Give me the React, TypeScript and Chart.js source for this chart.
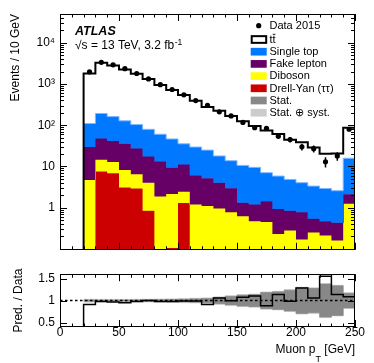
import { useEffect, useRef } from 'react';
import { Chart, registerables } from 'chart.js';
Chart.register(...registerables);

const FONT = '"Liberation Sans", Arimo, Arial, Helvetica, sans-serif';

// Muon pT bins: lower edges in GeV (10 GeV wide)
const binLow = [20, 30, 40, 50, 60, 70, 80, 90, 100, 110, 120, 130, 140, 150, 160, 170, 180, 190, 200, 210, 220, 230, 240];
const binWidth = 10;

// Events per bin
const data2015 = [1975, 3370, 2920, 2355, 1800, 1330, 964, 736, 546, 396, 303, 212, 168, 117, 87, 84, 54, 45, 30, 27, 13, 18, 80];
const ttbar = [1687, 3110, 2670, 2109, 1660, 1250, 884, 674, 504, 362, 251, 207, 154, 115, 86.5, 67, 55.7, 39.5, 34.6, 25.3, 17.3, 17.9, 71];
const singleTop = [80.4, 145, 120.3, 92.5, 76.8, 62.2, 47.3, 37.2, 24.4, 23.6, 19.7, 14.0, 10.85, 9.29, 8.3, 5.63, 4.92, 4.01, 3.27, 2.8, 2.45, 2.15, 13.7];
const fakeLepton = [24.9, 33.5, 28.9, 27.3, 20.7, 13.4, 11.4, 7.15, 8.66, 4.8, 4.11, 3.05, 2.19, 0.69, 0.73, 0.98, 0.7, 0.56, 0.6, 0.29, 0.26, 0.27, 0.88];
const diboson = [4.7, 7.0, 6.0, 5.1, 3.6, 3.16, 1.87, 2.05, 1.14, 1.2, 1.09, 0.95, 0.77, 0.62, 0.47, 0.45, 0.23, 0.28, 0.17, 0.25, 0.21, 0.16, 1.24];
const drellYan = [0, 7.5, 6.8, 3.1, 2.9, 0.84, 0, 0.105, 1.3, 0, 0, 0, 0, 0, 0, 0, 0, 0, 0, 0, 0, 0, 0];

// Relative uncertainties for the ratio band
const statUnc = [0.012, 0.01, 0.01, 0.012, 0.014, 0.016, 0.02, 0.025, 0.032, 0.04, 0.048, 0.072, 0.098, 0.125, 0.138, 0.185, 0.2, 0.238, 0.295, 0.278, 0.375, 0.338, 0.168];
const totUnc = [0.035, 0.03, 0.03, 0.03, 0.032, 0.034, 0.038, 0.042, 0.048, 0.055, 0.062, 0.085, 0.11, 0.138, 0.15, 0.197, 0.212, 0.25, 0.307, 0.29, 0.387, 0.35, 0.18];

// Axis ticks
const mainYTickValues = [1, 10, 100, 1000, 10000];
const mainYTickLabels = ['1', '10', '10²', '10³', '10⁴'];
const ratioYTickValues = [0.5, 1, 1.5];
const ratioYTickLabels = ['0.5', '1', '1.5'];
const xTickValues = [0, 50, 100, 150, 200, 250];

const Y_MIN = 0.095;
const Y_MAX = 5e4;
const R_MIN = 0.4;
const R_MAX = 1.6;
const FLOOR = 0.01;

const COLORS = {
  singleTop: '#0078ff',
  fake: '#660066',
  diboson: '#ffff00',
  dy: '#cc0000',
  stat: '#888888',
  syst: '#cccccc',
};

// histogram outline points at bin edges (used with stepped lines)
function stepPoints(values: number[], floor: number) {
  const last = binLow.length - 1;
  return [
    ...binLow.map((b, i) => ({ x: b, y: Math.max(values[i], floor) })),
    { x: binLow[last] + binWidth, y: Math.max(values[last], floor) },
  ];
}

function drawFrameAndTicks(chart: any, xt: { v: number; len: number }[], yt: { v: number; len: number }[]) {
  const { ctx, chartArea: a, scales } = chart;
  ctx.save();
  ctx.strokeStyle = '#000';
  ctx.lineWidth = 1;
  ctx.beginPath();
  for (const t of xt) {
    const px = Math.round(scales.x.getPixelForValue(t.v)) + 0.5;
    ctx.moveTo(px, a.bottom);
    ctx.lineTo(px, a.bottom - t.len);
    ctx.moveTo(px, a.top);
    ctx.lineTo(px, a.top + t.len);
  }
  for (const t of yt) {
    const py = Math.round(scales.y.getPixelForValue(t.v)) + 0.5;
    ctx.moveTo(a.left, py);
    ctx.lineTo(a.left + t.len, py);
    ctx.moveTo(a.right, py);
    ctx.lineTo(a.right - t.len, py);
  }
  ctx.stroke();
  ctx.strokeRect(Math.round(a.left) + 0.5, Math.round(a.top) + 0.5, Math.round(a.right - a.left) - 1, Math.round(a.bottom - a.top) - 1);
  ctx.restore();
}

function xTickMarks() {
  const out: { v: number; len: number }[] = [];
  for (let v = 0; v <= 250; v += 10) out.push({ v, len: v % 50 === 0 ? 7 : 3.5 });
  return out;
}

function mainConfig(): any {
  const comps = [
    { values: drellYan, color: COLORS.dy, edge: COLORS.dy },
    { values: diboson, color: COLORS.diboson, edge: COLORS.diboson },
    { values: fakeLepton, color: COLORS.fake, edge: COLORS.fake },
    { values: singleTop, color: COLORS.singleTop, edge: '#80b8ff' },
  ];
  let cum = binLow.map(() => 0);
  const fills = comps.map((c, k) => {
    cum = cum.map((v, i) => v + c.values[i]);
    return {
      type: 'line',
      data: stepPoints(cum, FLOOR),
      stepped: true,
      pointRadius: 0,
      borderColor: c.edge,
      borderWidth: 1,
      backgroundColor: c.color,
      fill: k === 0 ? 'start' : '-1',
      order: 10 - k,
    };
  });
  const total = cum.map((v, i) => v + ttbar[i]);
  const totalLine = {
    type: 'line',
    data: [{ x: binLow[0], y: FLOOR }, ...stepPoints(total, FLOOR)],
    borderColor: '#000',
    borderWidth: 2,
    pointRadius: 0,
    stepped: true,
    fill: false,
    order: 1,
  };
  const points = {
    type: 'scatter',
    data: binLow.map((b, i) => ({ x: b + binWidth / 2, y: data2015[i] })),
    pointRadius: 2.6,
    pointBackgroundColor: '#000',
    pointBorderWidth: 0,
    order: 0,
  };

  const decor = {
    id: 'mainDecor',
    afterDatasetsDraw(chart: any) {
      const { ctx, scales } = chart;
      ctx.save();
      ctx.strokeStyle = '#000';
      ctx.lineWidth = 1.5;
      ctx.beginPath();
      binLow.forEach((b, i) => {
        const d = data2015[i];
        const e = Math.sqrt(d);
        const px = scales.x.getPixelForValue(b + binWidth / 2);
        ctx.moveTo(px, scales.y.getPixelForValue(d + e));
        ctx.lineTo(px, scales.y.getPixelForValue(Math.max(d - e, FLOOR)));
      });
      ctx.stroke();
      ctx.restore();
    },
    afterDraw(chart: any) {
      const yt: { v: number; len: number }[] = [];
      for (let e = -2; e <= 4; e++) {
        for (let k = 1; k <= 9; k++) {
          const v = k * Math.pow(10, e);
          if (v >= Y_MIN && v <= Y_MAX) yt.push({ v, len: k === 1 ? 7 : 4 });
        }
      }
      drawFrameAndTicks(chart, xTickMarks(), yt);
      const ctx = chart.ctx;
      ctx.save();
      ctx.fillStyle = '#000';
      ctx.textBaseline = 'alphabetic';
      ctx.textAlign = 'left';
      ctx.font = `italic bold 12.5px ${FONT}`;
      ctx.fillText('ATLAS', 75, 34.5);
      ctx.font = `12px ${FONT}`;
      const s1 = '√s = 13 TeV, 3.2 fb';
      ctx.fillText(s1, 75, 49);
      const w1 = ctx.measureText(s1).width;
      ctx.font = `8.5px ${FONT}`;
      ctx.fillText('-1', 75 + w1 + 0.5, 44.5);

      // legend
      const bx = 250.7, bw = 16, bh = 7.7, tx = 269.5;
      ctx.font = `11px ${FONT}`;
      ctx.textBaseline = 'middle';
      ctx.beginPath();
      ctx.arc(258.7, 25.7, 2.6, 0, Math.PI * 2);
      ctx.fill();
      ctx.fillText('Data 2015', tx, 26);
      const rows: { y: number; label: string; fill: string | null }[] = [
        { y: 39.5, label: 'tt', fill: null },
        { y: 51.7, label: 'Single top', fill: COLORS.singleTop },
        { y: 63.9, label: 'Fake lepton', fill: COLORS.fake },
        { y: 76.1, label: 'Diboson', fill: COLORS.diboson },
        { y: 88.3, label: 'Drell-Yan (ττ)', fill: COLORS.dy },
        { y: 100.5, label: 'Stat.', fill: COLORS.stat },
        { y: 112.7, label: 'Stat. ⊕ syst.', fill: COLORS.syst },
      ];
      for (const r of rows) {
        if (r.fill) {
          ctx.fillStyle = r.fill;
          ctx.fillRect(bx, r.y - bh / 2, bw, bh);
        } else {
          ctx.strokeStyle = '#000';
          ctx.lineWidth = 2;
          ctx.strokeRect(bx + 1, r.y - bh / 2 + 0.5, bw - 1.5, bh - 1);
        }
        ctx.fillStyle = '#000';
        ctx.fillText(r.label, tx, r.y + 0.3);
        if (!r.fill) {
          const wt = ctx.measureText('t').width;
          ctx.lineWidth = 0.9;
          ctx.beginPath();
          ctx.moveTo(tx + wt + 0.2, r.y - 5.2);
          ctx.lineTo(tx + 2 * wt - 0.2, r.y - 5.2);
          ctx.stroke();
        }
      }
      ctx.restore();
    },
  };

  return {
    type: 'line',
    data: { datasets: [points, totalLine, ...fills] },
    options: {
      animation: false,
      responsive: false,
      events: [],
      layout: { padding: { left: 0, right: 19, top: 14, bottom: 3 } },
      plugins: { legend: { display: false }, tooltip: { enabled: false } },
      scales: {
        x: { type: 'linear', min: 0, max: 250, display: false, offset: false },
        y: {
          type: 'logarithmic',
          min: Y_MIN,
          max: Y_MAX,
          grid: { display: false, drawTicks: false },
          border: { display: false },
          afterBuildTicks: (s: any) => {
            s.ticks = mainYTickValues.map((v) => ({ value: v }));
          },
          afterFit: (s: any) => {
            s.width = 60;
          },
          ticks: {
            autoSkip: false,
            padding: 5,
            color: '#000',
            font: { family: FONT, size: 12 },
            callback: (v: number) => {
              const i = mainYTickValues.indexOf(v);
              return i >= 0 ? mainYTickLabels[i] : '';
            },
          },
          title: {
            display: true,
            text: 'Events / 10 GeV',
            align: 'end',
            color: '#000',
            font: { family: FONT, size: 12 },
            padding: { top: 8.8, bottom: 0 },
          },
        },
      },
    },
    plugins: [decor],
  };
}

function ratioConfig(): any {
  const pred = binLow.map((_, i) => ttbar[i] + singleTop[i] + fakeLepton[i] + diboson[i] + drellYan[i]);
  const ratio = pred.map((p, i) => p / data2015[i]);
  const stepLine = {
    type: 'line',
    data: [{ x: 0, y: 0 }, ...stepPoints(ratio, -1)],
    borderColor: '#000',
    borderWidth: 1.5,
    pointRadius: 0,
    stepped: true,
    fill: false,
    order: 0,
  };
  const unity = {
    type: 'line',
    data: [
      { x: 0, y: 1 },
      { x: 250, y: 1 },
    ],
    borderColor: '#000',
    borderWidth: 1.5,
    borderDash: [2.5, 2.5],
    pointRadius: 0,
    order: 1,
  };
  const bandEdge = (u: number[], sign: number, color: string, fill: any, order: number) => ({
    type: 'line',
    data: stepPoints(u.map((x) => 1 + sign * x), -1),
    stepped: true,
    pointRadius: 0,
    borderColor: color,
    borderWidth: 0.6,
    backgroundColor: color,
    fill,
    order,
  });
  const decor = {
    id: 'ratioDecor',
    afterDraw(chart: any) {
      drawFrameAndTicks(
        chart,
        xTickMarks(),
        ratioYTickValues.map((v) => ({ v, len: 7 }))
      );
      const ctx = chart.ctx;
      ctx.save();
      ctx.fillStyle = '#000';
      ctx.textBaseline = 'alphabetic';
      ctx.textAlign = 'left';
      ctx.font = `12px ${FONT}`;
      const a = 'Muon p';
      const c = ' [GeV]';
      const wa = ctx.measureText(a).width;
      const wc = ctx.measureText(c).width;
      ctx.font = `9px ${FONT}`;
      const wb = ctx.measureText('T').width;
      const x0 = chart.chartArea.right - (wa + wb + wc);
      const base = 91.3;
      ctx.font = `12px ${FONT}`;
      ctx.fillText(a, x0, base);
      ctx.fillText(c, x0 + wa + wb, base);
      ctx.font = `9px ${FONT}`;
      ctx.fillText('T', x0 + wa, base + 8.8);
      ctx.restore();
    },
  };
  return {
    type: 'line',
    data: {
      datasets: [
        stepLine,
        unity,
        bandEdge(totUnc, -1, COLORS.syst, false, 5),
        bandEdge(totUnc, 1, COLORS.syst, '-1', 4),
        bandEdge(statUnc, -1, COLORS.stat, false, 3),
        bandEdge(statUnc, 1, COLORS.stat, '-1', 2),
      ],
    },
    options: {
      animation: false,
      responsive: false,
      events: [],
      layout: { padding: { left: 0, right: 19, top: 2, bottom: 0 } },
      plugins: { legend: { display: false }, tooltip: { enabled: false } },
      scales: {
        x: {
          type: 'linear',
          min: 0,
          max: 250,
          offset: false,
          grid: { display: false, drawTicks: false },
          border: { display: false },
          afterBuildTicks: (s: any) => {
            s.ticks = xTickValues.map((v) => ({ value: v }));
          },
          afterFit: (s: any) => {
            s.height = 36;
          },
          ticks: {
            autoSkip: false,
            maxRotation: 0,
            padding: 0,
            color: '#000',
            font: { family: FONT, size: 12, lineHeight: 1 },
          },
        },
        y: {
          type: 'linear',
          min: R_MIN,
          max: R_MAX,
          grid: { display: false, drawTicks: false },
          border: { display: false },
          afterBuildTicks: (s: any) => {
            s.ticks = ratioYTickValues.map((v) => ({ value: v }));
          },
          afterFit: (s: any) => {
            s.width = 60;
          },
          ticks: {
            autoSkip: false,
            padding: 5,
            color: '#000',
            font: { family: FONT, size: 12 },
            callback: (v: number) => {
              const i = ratioYTickValues.indexOf(v);
              return i >= 0 ? ratioYTickLabels[i] : '';
            },
          },
          title: {
            display: true,
            text: 'Pred. / Data',
            align: 'center',
            color: '#000',
            font: { family: FONT, size: 12 },
            padding: { top: 11.8, bottom: 0 },
          },
        },
      },
    },
    plugins: [decor],
  };
}

export default function App() {
  const mainRef = useRef<HTMLCanvasElement>(null);
  const ratioRef = useRef<HTMLCanvasElement>(null);
  useEffect(() => {
    const c1 = new Chart(mainRef.current as HTMLCanvasElement, mainConfig());
    const c2 = new Chart(ratioRef.current as HTMLCanvasElement, ratioConfig());
    return () => {
      c1.destroy();
      c2.destroy();
    };
  }, []);
  return (
    <div style={{ position: 'absolute', left: 0, top: 0, width: 374, height: 363, background: '#fff' }}>
      <canvas
        ref={mainRef}
        width={374}
        height={262}
        style={{ position: 'absolute', left: 0, top: 0, width: 374, height: 262, display: 'block' }}
      />
      <canvas
        ref={ratioRef}
        width={374}
        height={101}
        style={{ position: 'absolute', left: 0, top: 262, width: 374, height: 101, display: 'block' }}
      />
    </div>
  );
}
